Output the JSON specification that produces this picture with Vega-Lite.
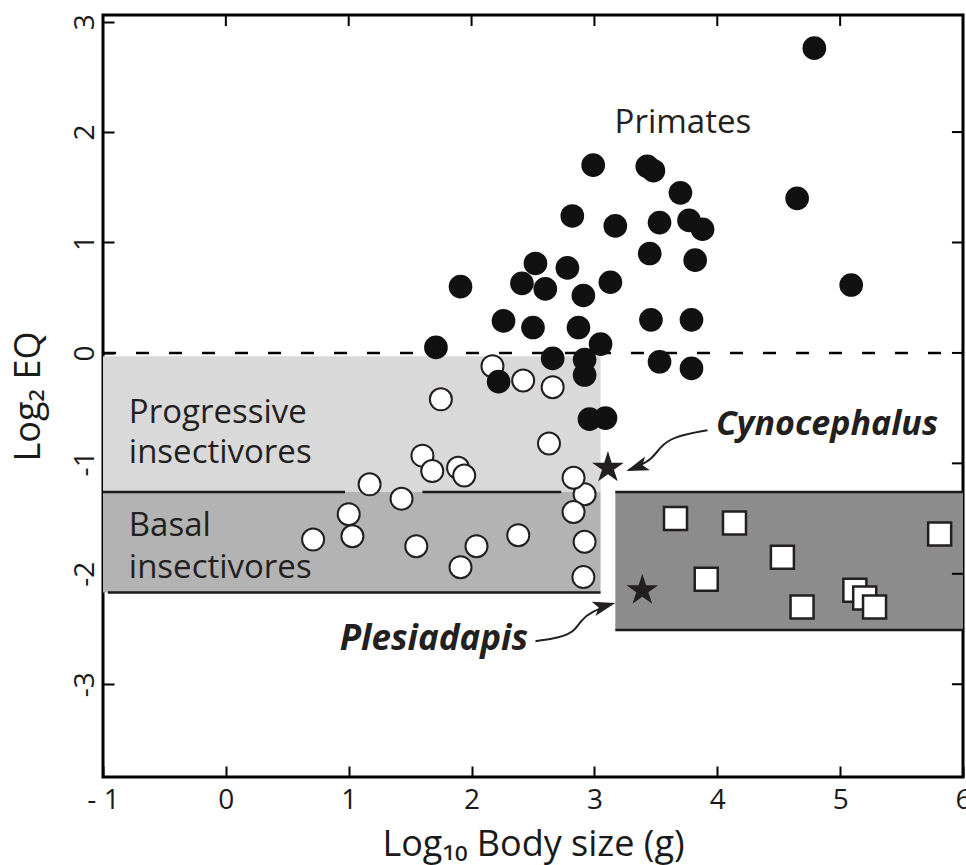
{
  "$schema": "https://vega.github.io/schema/vega-lite/v6.json",
  "width": 860,
  "height": 762,
  "autosize": {"type": "none"},
  "padding": {"left": 103, "top": 15, "right": 3, "bottom": 88},
  "background": "white",
  "config": {
    "view": {"stroke": "#000", "strokeWidth": 3},
    "font": "Open Sans",
    "axis": {
      "grid": false,
      "domain": false,
      "tickColor": "#000",
      "tickWidth": 2,
      "tickSize": 11,
      "offset": -11,
      "labelFont": "Open Sans",
      "labelFontSize": 28,
      "labelColor": "#1a1a1a",
      "labelFlush": false,
      "titleFont": "Open Sans",
      "titleFontSize": 36,
      "titleFontWeight": "normal",
      "titleColor": "#1a1a1a"
    }
  },
  "datasets": {
    "boxes": [
      {"box": "progressive", "x0": -1, "x1": 3.05, "y0": -0.03, "y1": -1.26},
      {"box": "basal", "x0": -1, "x1": 3.05, "y0": -1.26, "y1": -2.17},
      {"box": "large", "x0": 3.17, "x1": 6, "y0": -1.26, "y1": -2.51}
    ],
    "lines": [
      {"x0": -1, "x1": 0.97, "y": -1.26},
      {"x0": 1.6, "x1": 2.73, "y": -1.26},
      {"x0": -0.96, "x1": 3.05, "y": -2.17},
      {"x0": 3.17, "x1": 6, "y": -1.26},
      {"x0": 3.17, "x1": 6, "y": -2.51}
    ],
    "topticks": [
      {"x": 0, "y0": 3.06, "y1": 2.96},
      {"x": 1, "y0": 3.06, "y1": 2.96},
      {"x": 2, "y0": 3.06, "y1": 2.96},
      {"x": 3, "y0": 3.06, "y1": 2.96},
      {"x": 4, "y0": 3.06, "y1": 2.96},
      {"x": 5, "y0": 3.06, "y1": 2.96}
    ],
    "rightticks": [
      {"y": -3, "x0": 6, "x1": 5.91},
      {"y": -2, "x0": 6, "x1": 5.91},
      {"y": -1, "x0": 6, "x1": 5.91},
      {"y": 0, "x0": 6, "x1": 5.91},
      {"y": 1, "x0": 6, "x1": 5.91},
      {"y": 2, "x0": 6, "x1": 5.91}
    ],
    "points": [
      {"group": "primate", "x": 4.79, "y": 2.76},
      {"group": "primate", "x": 4.65, "y": 1.40},
      {"group": "primate", "x": 5.09, "y": 0.615},
      {"group": "primate", "x": 2.99, "y": 1.70},
      {"group": "primate", "x": 3.43, "y": 1.69},
      {"group": "primate", "x": 3.48, "y": 1.65},
      {"group": "primate", "x": 3.70, "y": 1.45},
      {"group": "primate", "x": 2.82, "y": 1.24},
      {"group": "primate", "x": 3.17, "y": 1.15},
      {"group": "primate", "x": 3.53, "y": 1.18},
      {"group": "primate", "x": 3.77, "y": 1.20},
      {"group": "primate", "x": 3.88, "y": 1.12},
      {"group": "primate", "x": 2.52, "y": 0.81},
      {"group": "primate", "x": 2.78, "y": 0.77},
      {"group": "primate", "x": 3.45, "y": 0.90},
      {"group": "primate", "x": 3.82, "y": 0.84},
      {"group": "primate", "x": 1.91, "y": 0.60},
      {"group": "primate", "x": 2.41, "y": 0.63},
      {"group": "primate", "x": 2.60, "y": 0.58},
      {"group": "primate", "x": 3.13, "y": 0.64},
      {"group": "primate", "x": 2.91, "y": 0.52},
      {"group": "primate", "x": 2.26, "y": 0.29},
      {"group": "primate", "x": 2.50, "y": 0.23},
      {"group": "primate", "x": 2.87, "y": 0.23},
      {"group": "primate", "x": 3.46, "y": 0.30},
      {"group": "primate", "x": 3.79, "y": 0.30},
      {"group": "primate", "x": 3.05, "y": 0.08},
      {"group": "primate", "x": 1.71, "y": 0.05},
      {"group": "primate", "x": 2.66, "y": -0.05},
      {"group": "primate", "x": 2.92, "y": -0.06},
      {"group": "primate", "x": 2.92, "y": -0.20},
      {"group": "primate", "x": 2.22, "y": -0.26},
      {"group": "primate", "x": 3.53, "y": -0.08},
      {"group": "primate", "x": 3.79, "y": -0.14},
      {"group": "primate", "x": 2.96, "y": -0.60},
      {"group": "primate", "x": 3.09, "y": -0.59},
      {"group": "insectivore", "x": 1.75, "y": -0.42},
      {"group": "insectivore", "x": 2.17, "y": -0.12},
      {"group": "insectivore", "x": 2.42, "y": -0.25},
      {"group": "insectivore", "x": 2.66, "y": -0.31},
      {"group": "insectivore", "x": 2.63, "y": -0.82},
      {"group": "insectivore", "x": 1.60, "y": -0.93},
      {"group": "insectivore", "x": 1.68, "y": -1.07},
      {"group": "insectivore", "x": 1.89, "y": -1.04},
      {"group": "insectivore", "x": 1.94, "y": -1.11},
      {"group": "insectivore", "x": 1.17, "y": -1.19},
      {"group": "insectivore", "x": 1.43, "y": -1.32},
      {"group": "insectivore", "x": 2.92, "y": -1.28},
      {"group": "insectivore", "x": 2.83, "y": -1.13},
      {"group": "insectivore", "x": 2.83, "y": -1.44},
      {"group": "insectivore", "x": 1.00, "y": -1.46},
      {"group": "insectivore", "x": 1.03, "y": -1.66},
      {"group": "insectivore", "x": 0.71, "y": -1.69},
      {"group": "insectivore", "x": 1.55, "y": -1.75},
      {"group": "insectivore", "x": 2.04, "y": -1.75},
      {"group": "insectivore", "x": 2.38, "y": -1.65},
      {"group": "insectivore", "x": 1.91, "y": -1.94},
      {"group": "insectivore", "x": 2.92, "y": -1.71},
      {"group": "insectivore", "x": 2.91, "y": -2.03},
      {"group": "other", "x": 3.66, "y": -1.50},
      {"group": "other", "x": 4.14, "y": -1.54},
      {"group": "other", "x": 4.53, "y": -1.85},
      {"group": "other", "x": 3.91, "y": -2.05},
      {"group": "other", "x": 4.69, "y": -2.30},
      {"group": "other", "x": 5.12, "y": -2.15},
      {"group": "other", "x": 5.20, "y": -2.22},
      {"group": "other", "x": 5.28, "y": -2.30},
      {"group": "other", "x": 5.81, "y": -1.64},
      {"group": "fossil", "x": 3.11, "y": -1.04},
      {"group": "fossil", "x": 3.39, "y": -2.15}
    ],
    "arrows": [
      {"arrow": "Cynocephalus", "i": 0, "x": 3.92, "y": -0.70},
      {"arrow": "Cynocephalus", "i": 1, "x": 3.63, "y": -0.76},
      {"arrow": "Cynocephalus", "i": 2, "x": 3.53, "y": -0.86},
      {"arrow": "Cynocephalus", "i": 3, "x": 3.47, "y": -0.96},
      {"arrow": "Cynocephalus", "i": 4, "x": 3.35, "y": -1.03},
      {"arrow": "Cynocephalus", "i": 5, "x": 3.28, "y": -1.06},
      {"arrow": "Plesiadapis", "i": 0, "x": 2.52, "y": -2.61},
      {"arrow": "Plesiadapis", "i": 1, "x": 2.72, "y": -2.58},
      {"arrow": "Plesiadapis", "i": 2, "x": 2.84, "y": -2.52},
      {"arrow": "Plesiadapis", "i": 3, "x": 2.89, "y": -2.42},
      {"arrow": "Plesiadapis", "i": 4, "x": 2.98, "y": -2.34},
      {"arrow": "Plesiadapis", "i": 5, "x": 3.14, "y": -2.275}
    ],
    "tips": [
      {"arrow": "Cynocephalus", "x": 3.26, "y": -1.07},
      {"arrow": "Plesiadapis", "x": 3.17, "y": -2.265}
    ],
    "annotations": [
      {"kind": "center", "text": "Primates", "x": 3.72, "y": 1.99},
      {"kind": "left", "text": "Progressive", "x": -0.79, "y": -0.63},
      {"kind": "left", "text": "insectivores", "x": -0.79, "y": -1.0},
      {"kind": "left", "text": "Basal", "x": -0.79, "y": -1.66},
      {"kind": "left", "text": "insectivores", "x": -0.79, "y": -2.04},
      {"kind": "boldleft", "text": "Cynocephalus", "x": 3.99, "y": -0.74},
      {"kind": "boldright", "text": "Plesiadapis", "x": 2.46, "y": -2.69}
    ]
  },
  "layer": [
    {
      "data": {"name": "boxes"},
      "mark": {"type": "rect"},
      "encoding": {
        "x": {
          "field": "x0", "type": "quantitative",
          "scale": {"domain": [-1, 6], "nice": false, "zero": false},
          "axis": {
            "orient": "bottom",
            "values": [-1, 0, 1, 2, 3, 4, 5, 6],
            "labelExpr": "datum.value < 0 ? '- ' + abs(datum.value) : '' + datum.value",
            "labelPadding": 9,
            "title": "Log₁₀ Body size (g)",
            "titlePadding": 13
          }
        },
        "x2": {"field": "x1"},
        "y": {
          "field": "y0", "type": "quantitative",
          "scale": {"domain": [-3.84, 3.06], "nice": false, "zero": false},
          "axis": {
            "orient": "left",
            "values": [-3, -2, -1, 0, 1, 2, 3],
            "labelExpr": "datum.value < 0 ? '-' + abs(datum.value) : '' + datum.value",
            "labelAngle": -90,
            "labelAlign": "center",
            "labelBaseline": "bottom",
            "labelPadding": 4,
            "title": "Log₂ EQ",
            "titlePadding": 24
          }
        },
        "y2": {"field": "y1"},
        "color": {
          "field": "box", "type": "nominal",
          "scale": {"domain": ["progressive", "basal", "large"], "range": ["#d9d9d9", "#b3b3b3", "#8c8c8c"]},
          "legend": null
        }
      }
    },
    {
      "data": {"name": "lines"},
      "mark": {"type": "rule", "color": "#1a1a1a", "strokeWidth": 2.5},
      "encoding": {
        "x": {"field": "x0", "type": "quantitative"},
        "x2": {"field": "x1"},
        "y": {"field": "y", "type": "quantitative"}
      }
    },
    {
      "data": {"name": "topticks"},
      "mark": {"type": "rule", "color": "#000", "strokeWidth": 2},
      "encoding": {
        "x": {"field": "x", "type": "quantitative"},
        "y": {"field": "y0", "type": "quantitative"},
        "y2": {"field": "y1"}
      }
    },
    {
      "data": {"name": "rightticks"},
      "mark": {"type": "rule", "color": "#000", "strokeWidth": 2},
      "encoding": {
        "x": {"field": "x0", "type": "quantitative"},
        "x2": {"field": "x1"},
        "y": {"field": "y", "type": "quantitative"}
      }
    },
    {
      "data": {"values": [{"x0": -1, "x1": 6, "y": 0}]},
      "mark": {"type": "rule", "color": "#000", "strokeWidth": 2.5, "strokeDash": [13, 20]},
      "encoding": {
        "x": {"field": "x0", "type": "quantitative"},
        "x2": {"field": "x1"},
        "y": {"field": "y", "type": "quantitative"}
      }
    },
    {
      "data": {"name": "points"},
      "transform": [{"filter": "datum.group === 'insectivore'"}],
      "mark": {"type": "point", "shape": "circle", "filled": true, "fill": "#ffffff", "stroke": "#231f20", "strokeWidth": 2, "size": 484, "opacity": 1},
      "encoding": {
        "x": {"field": "x", "type": "quantitative"},
        "y": {"field": "y", "type": "quantitative"}
      }
    },
    {
      "data": {"name": "points"},
      "transform": [{"filter": "datum.group === 'primate'"}],
      "mark": {"type": "point", "shape": "circle", "filled": true, "fill": "#111111", "strokeWidth": 0, "size": 560, "opacity": 1},
      "encoding": {
        "x": {"field": "x", "type": "quantitative"},
        "y": {"field": "y", "type": "quantitative"}
      }
    },
    {
      "data": {"name": "points"},
      "transform": [{"filter": "datum.group === 'other'"}],
      "mark": {"type": "point", "shape": "square", "filled": true, "fill": "#ffffff", "stroke": "#231f20", "strokeWidth": 2.5, "size": 529, "opacity": 1},
      "encoding": {
        "x": {"field": "x", "type": "quantitative"},
        "y": {"field": "y", "type": "quantitative"}
      }
    },
    {
      "data": {"name": "points"},
      "transform": [{"filter": "datum.group === 'fossil'"}],
      "mark": {"type": "point", "shape": "M0,-1L0.2245,-0.309L0.951,-0.309L0.363,0.118L0.588,0.809L0,0.382L-0.588,0.809L-0.363,0.118L-0.951,-0.309L-0.2245,-0.309Z", "filled": true, "fill": "#231f20", "strokeWidth": 0, "size": 1110, "opacity": 1},
      "encoding": {
        "x": {"field": "x", "type": "quantitative"},
        "y": {"field": "y", "type": "quantitative"}
      }
    },
    {
      "data": {"name": "arrows"},
      "mark": {"type": "line", "color": "#231f20", "strokeWidth": 2, "interpolate": "basis"},
      "encoding": {
        "x": {"field": "x", "type": "quantitative"},
        "y": {"field": "y", "type": "quantitative"},
        "detail": {"field": "arrow", "type": "nominal"},
        "order": {"field": "i", "type": "quantitative"}
      }
    },
    {
      "data": {"name": "tips"},
      "transform": [{"filter": "datum.arrow === 'Cynocephalus'"}],
      "mark": {"type": "point", "shape": "M0,0L0.55,1.7L0,1.3L-0.55,1.7Z", "filled": true, "fill": "#231f20", "strokeWidth": 0, "size": 700, "opacity": 1, "angle": 250},
      "encoding": {
        "x": {"field": "x", "type": "quantitative"},
        "y": {"field": "y", "type": "quantitative"}
      }
    },
    {
      "data": {"name": "tips"},
      "transform": [{"filter": "datum.arrow === 'Plesiadapis'"}],
      "mark": {"type": "point", "shape": "M0,0L0.55,1.7L0,1.3L-0.55,1.7Z", "filled": true, "fill": "#231f20", "strokeWidth": 0, "size": 700, "opacity": 1, "angle": 75},
      "encoding": {
        "x": {"field": "x", "type": "quantitative"},
        "y": {"field": "y", "type": "quantitative"}
      }
    },
    {
      "data": {"name": "annotations"},
      "transform": [{"filter": "datum.kind === 'left'"}],
      "mark": {"type": "text", "align": "left", "baseline": "alphabetic", "font": "Open Sans", "fontSize": 33, "color": "#231f20"},
      "encoding": {
        "x": {"field": "x", "type": "quantitative"},
        "y": {"field": "y", "type": "quantitative"},
        "text": {"field": "text", "type": "nominal"}
      }
    },
    {
      "data": {"name": "annotations"},
      "transform": [{"filter": "datum.kind === 'center'"}],
      "mark": {"type": "text", "align": "center", "baseline": "alphabetic", "font": "Open Sans", "fontSize": 33, "color": "#231f20"},
      "encoding": {
        "x": {"field": "x", "type": "quantitative"},
        "y": {"field": "y", "type": "quantitative"},
        "text": {"field": "text", "type": "nominal"}
      }
    },
    {
      "data": {"name": "annotations"},
      "transform": [{"filter": "datum.kind === 'boldleft'"}],
      "mark": {"type": "text", "align": "left", "baseline": "alphabetic", "font": "Open Sans", "fontSize": 34, "fontWeight": "bold", "fontStyle": "italic", "color": "#231f20"},
      "encoding": {
        "x": {"field": "x", "type": "quantitative"},
        "y": {"field": "y", "type": "quantitative"},
        "text": {"field": "text", "type": "nominal"}
      }
    },
    {
      "data": {"name": "annotations"},
      "transform": [{"filter": "datum.kind === 'boldright'"}],
      "mark": {"type": "text", "align": "right", "baseline": "alphabetic", "font": "Open Sans", "fontSize": 35, "fontWeight": "bold", "fontStyle": "italic", "color": "#231f20"},
      "encoding": {
        "x": {"field": "x", "type": "quantitative"},
        "y": {"field": "y", "type": "quantitative"},
        "text": {"field": "text", "type": "nominal"}
      }
    }
  ]
}
